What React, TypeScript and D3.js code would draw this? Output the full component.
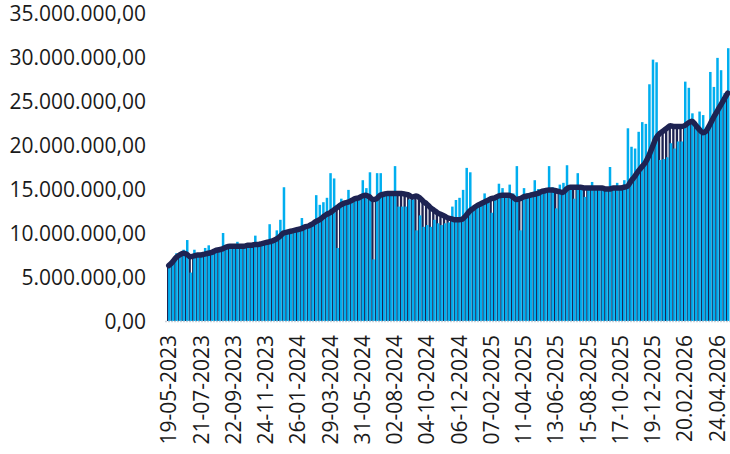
import React from 'react';
import * as d3 from 'd3';

// weekly observations, values in millions
const startDate = new Date(2023, 4, 19);

const values = [
  6.2, 6.6, 7.7, 7.7, 8.1, 9.2, 5.5, 8.1, 7.6, 7.8,
  8.3, 8.6, 7.9, 8.1, 8.3, 10.0, 8.5, 8.6, 8.7, 9.0,
  8.6, 8.7, 8.7, 8.8, 9.7, 8.8, 8.9, 9.0, 11.0, 9.4,
  10.3, 11.5, 15.2, 10.2, 10.4, 10.5, 10.6, 11.7, 10.9, 11.0,
  11.2, 14.3, 13.2, 13.5, 14.0, 16.8, 16.2, 8.3, 13.9, 13.6,
  14.9, 13.9, 14.1, 14.2, 16.0, 15.1, 16.9, 7.0, 16.8, 16.8,
  14.6, 14.7, 14.7, 17.6, 13.0, 13.0, 13.0, 13.8, 13.8, 10.3,
  12.0, 10.7, 10.9, 10.7, 11.5, 11.1, 10.9, 11.1, 11.2, 13.0,
  13.75, 14.0, 14.9, 17.4, 16.9, 13.0, 13.3, 13.6, 14.5, 14.0,
  12.3, 14.3, 15.6, 15.1, 14.5, 15.5, 14.5, 17.6, 10.3, 15.1,
  14.5, 14.6, 16.0, 15.0, 14.9, 15.0, 17.6, 15.2, 12.8, 15.5,
  15.7, 17.7, 15.4, 13.9, 16.8, 15.4, 14.1, 15.3, 15.8, 15.3,
  15.2, 15.2, 15.2, 17.5, 15.1, 15.7, 15.4, 16.0, 21.9, 19.8,
  19.6, 21.5, 22.6, 22.4, 26.9, 29.7, 29.4, 18.3, 18.4, 18.6,
  20.2, 19.6, 20.4, 20.4, 27.2, 26.5, 23.6, 21.9, 23.8, 23.4,
  21.5, 28.3, 26.6, 29.9, 28.5, 25.9, 31.0,
];

// moving average, values in millions
const average = [
  6.3, 6.7, 7.2, 7.5, 7.7, 7.6, 7.3, 7.4, 7.5, 7.5,
  7.6, 7.7, 7.8, 8.0, 8.1, 8.2, 8.4, 8.5, 8.5, 8.5,
  8.5, 8.5, 8.6, 8.6, 8.7, 8.7, 8.8, 8.9, 9.0, 9.1,
  9.3, 9.6, 10.0, 10.1, 10.2, 10.3, 10.4, 10.5, 10.7, 10.8,
  11.0, 11.3, 11.5, 11.8, 12.1, 12.3, 12.6, 12.9, 13.2, 13.4,
  13.5, 13.7, 13.9, 14.0, 14.2, 14.3, 14.1, 13.8, 13.9, 14.3,
  14.4, 14.5, 14.5, 14.5, 14.5, 14.5, 14.4, 14.3, 14.1, 14.2,
  14.0, 13.6, 13.3, 12.9, 12.6, 12.3, 12.1, 11.9, 11.7, 11.6,
  11.5, 11.5, 11.6, 12.0, 12.5, 12.8, 13.1, 13.3, 13.5, 13.7,
  13.9, 14.0, 14.2, 14.3, 14.3, 14.3, 14.1, 13.8, 13.9, 14.1,
  14.2, 14.3, 14.4, 14.5, 14.7, 14.8, 14.9, 14.9, 14.8, 14.7,
  14.6, 15.0, 15.2, 15.2, 15.2, 15.2, 15.1, 15.1, 15.1, 15.1,
  15.1, 15.1, 15.0, 15.0, 15.1, 15.1, 15.1, 15.2, 15.3, 15.9,
  16.4, 17.0, 17.5, 18.0, 18.8, 19.8, 20.8, 21.3, 21.6, 21.9,
  22.2, 22.1, 22.1, 22.1, 22.2, 22.5, 22.7, 22.3, 21.8, 21.4,
  21.6, 22.3, 23.1, 23.8, 24.5, 25.2, 25.9,
];

const tickLabels = [
  '19-05-2023', '21-07-2023', '22-09-2023', '24-11-2023', '26-01-2024',
  '29-03-2024', '31-05-2024', '02-08-2024', '04-10-2024', '06-12-2024',
  '07-02-2025', '11-04-2025', '13-06-2025', '15-08-2025', '17-10-2025',
  '19-12-2025', '20.02.2026', '24.04.2026',
];
const tickEvery = 9;

const yTicks = [0, 5, 10, 15, 20, 25, 30, 35];

const width = 730;
const height = 454;
const LIGHT = '#00aeef';
const NAVY = '#1e2352';
const FONT = "'Open Sans', sans-serif";

const locale = d3.formatLocale({
  decimal: ',',
  thousands: '.',
  grouping: [3],
  currency: ['', ' €'],
});
const fmt = locale.format(',.2f');

export default function App() {
  const weeks = values.map((_, i) => d3.timeDay.offset(startDate, i * 7));

  const x = d3
    .scaleBand<Date>()
    .domain(weeks)
    .range([167, 729.5])
    .padding(0);

  const y = d3.scaleLinear().domain([0, 35]).range([321, 13]);

  const bw = x.bandwidth();
  const darkW = bw * 0.65;
  const lightOff = bw * 0.3;

  const line = d3
    .line<number>()
    .x((_, i) => x(weeks[i])! + bw / 2)
    .y((d) => y(d))
    .curve(d3.curveMonotoneX);

  return (
    <svg
      width={width}
      height={height}
      style={{ position: 'absolute', left: 0, top: 0, background: '#fff' }}
      fontFamily={FONT}
    >
      {/* y axis labels */}
      <g>
        {yTicks.map((t) => (
          <text
            key={t}
            x={146}
            y={y(t)}
            dy="0.36em"
            textAnchor="end"
            fontSize={21}
            fill="#1a1a1a"
          >
            {fmt(t * 1e6)}
          </text>
        ))}
      </g>

      {/* dark bars (behind) */}
      <g>
        {average.map((v, i) => (
          <rect
            key={i}
            x={x(weeks[i])}
            y={y(v)}
            width={darkW}
            height={y(0) - y(v)}
            fill={NAVY}
          />
        ))}
      </g>

      {/* light bars */}
      <g>
        {values.map((v, i) => (
          <rect
            key={i}
            x={x(weeks[i])! + lightOff}
            y={y(v)}
            width={bw - lightOff}
            height={y(0) - y(v)}
            fill={LIGHT}
          />
        ))}
      </g>

      {/* baseline */}
      <line
        x1={165}
        x2={730}
        y1={y(0) + 0.5}
        y2={y(0) + 0.5}
        stroke="#c9d1d9"
        strokeWidth={1.5}
        strokeDasharray="2 1"
      />

      {/* average line */}
      <path
        d={line(average) || ''}
        fill="none"
        stroke={NAVY}
        strokeWidth={5.5}
        strokeLinejoin="round"
        strokeLinecap="round"
      />

      {/* x axis labels */}
      <g>
        {tickLabels.map((lab, k) => {
          const d = weeks[k * tickEvery];
          const cx = x(d)! + bw / 2;
          return (
            <text
              key={lab}
              transform={`translate(${cx},335) rotate(-90)`}
              dy="0.36em"
              textAnchor="end"
              fontSize={21}
              fill="#1a1a1a"
            >
              {lab}
            </text>
          );
        })}
      </g>
    </svg>
  );
}
